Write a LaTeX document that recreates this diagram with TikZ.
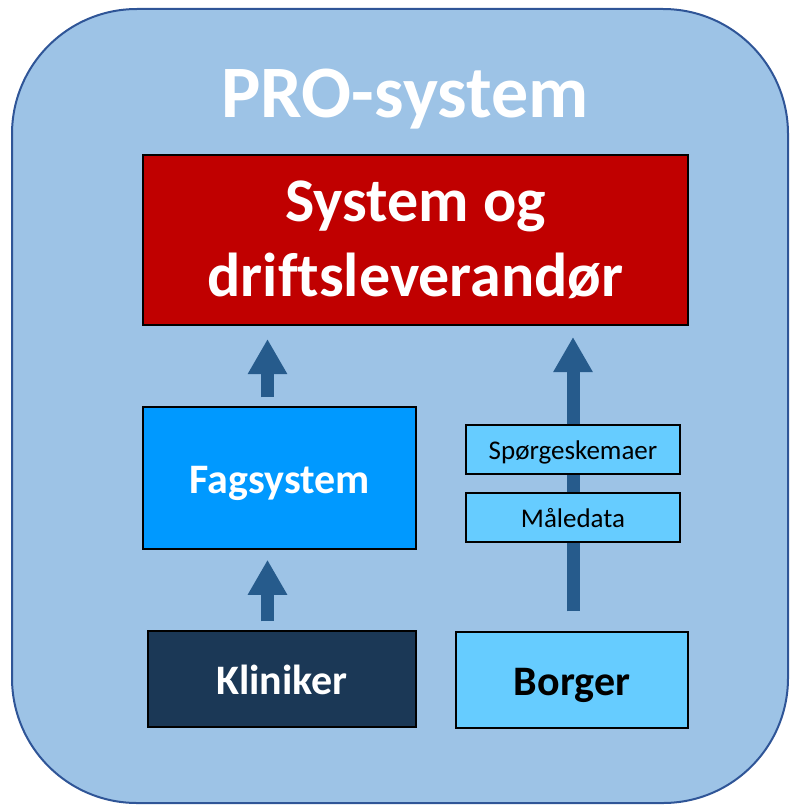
\documentclass[tikz,border=0pt]{standalone}
\usepackage{fontspec}
\setmainfont[Ligatures=NoCommon]{Carlito}
\usetikzlibrary{arrows.meta}

\definecolor{panelblue}{HTML}{9DC3E6}
\definecolor{paneledge}{HTML}{2F5597}
\definecolor{sysred}{HTML}{C00000}
\definecolor{fagblue}{HTML}{0099FF}
\definecolor{klinnavy}{HTML}{1B3856}
\definecolor{lightblue}{HTML}{66CCFF}
\definecolor{arrowblue}{HTML}{265B8C}

\tikzset{
    box/.style={draw=black, line width=1.5pt, inner sep=0pt, align=center},
    bigtext/.style={font=\bfseries\fontsize{42}{46}\selectfont, text height=36pt, text depth=5pt},
    smalltext/.style={font=\fontsize{27}{30}\selectfont, text height=22pt, text depth=3pt},
    uparrow/.style={draw=arrowblue, line width=13pt, -{Triangle[width=37pt,length=35pt]}},
    shaft/.style={draw=arrowblue, line width=13pt}
}

\begin{document}
\begin{tikzpicture}[x=1pt, y=-1pt]
    \useasboundingbox (0,0) rectangle (790,805);
    \draw[fill=panelblue, draw=paneledge, line width=2pt, rounded corners=125pt] (12,9) rectangle (788,803);
    \node[text=white, anchor=base, font=\bfseries\fontsize{74}{80}\selectfont] (title) at (405,118) {PRO-system};

    \node[box, line width=2pt, fill=sysred, text=white, minimum width=545pt, minimum height=170pt,
          font=\bfseries\fontsize{62}{75}\selectfont] (sys) at (415.5,240) {System og\\driftsleverand\o r};

    \node[box, bigtext, fill=fagblue, text=white, minimum width=273pt, minimum height=142pt] (fag) at (279.5,478) {Fagsystem};
    \node[box, bigtext, fill=klinnavy, text=white, minimum width=268pt, minimum height=96pt] (klin) at (282,679) {Kliniker};
    \node[box, bigtext, fill=lightblue, minimum width=232pt, minimum height=96pt] (borger) at (572,680) {Borger};

    \node[box, smalltext, fill=lightblue, minimum width=214pt, minimum height=49pt] (sporg) at (573,449.5) {Sp\o rgeskemaer};
    \node[box, smalltext, fill=lightblue, minimum width=214pt, minimum height=49pt] (maale) at (573,517.5) {M\aa ledata};

    % arrows
    \draw[uparrow, shorten <=9pt, shorten >=10pt] ([xshift=-14.5pt]klin.north) -- ([xshift=-12pt]fag.south);
    \draw[uparrow, shorten <=9pt, shorten >=13pt] ([xshift=-12pt]fag.north) -- ([xshift=-148pt]sys.south);
    \draw[shaft, shorten <=20pt] ([xshift=1pt]borger.north) -- (maale.south);
    \draw[shaft] (maale.north) -- (sporg.south);
    \draw[uparrow, shorten >=11pt] (sporg.north) -- (sporg.north |- sys.south);
\end{tikzpicture}
\end{document}
